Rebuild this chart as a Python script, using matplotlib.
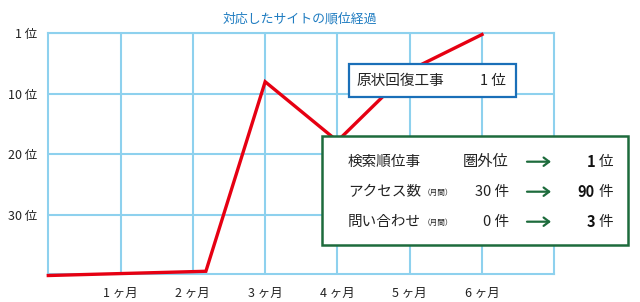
import matplotlib
matplotlib.use("Agg")
import matplotlib.pyplot as plt
from matplotlib.patches import Rectangle, FancyArrowPatch

plt.rcParams['font.family'] = ['Noto Sans CJK JP', 'DejaVu Sans']

# ---- data ----
title = "対応したサイトの順位経過"
months = [0, 2.18, 3, 4, 5, 6]          # month position of each point
rank_pos = [40.0, 39.3, 8.0, 17.8, 6.1, 0.2]  # vertical rank position (top = 1位)
xtick_vals = [1, 2, 3, 4, 5, 6]
xtick_labels = ["1 ヶ月", "2 ヶ月", "3 ヶ月", "4 ヶ月", "5 ヶ月", "6 ヶ月"]
ytick_vals = [0, 10, 20, 30]
ytick_labels = ["1 位", "10 位", "20 位", "30 位"]

box1_label = "原状回復工事"
box1_value = "1 位"

row_labels = ["検索順位事", "アクセス数", "問い合わせ"]
row_notes = ["", "（月間）", "（月間）"]
row_before = ["圏外位", "30 件", "0 件"]
row_after_num = ["1", "90", "3"]
row_after_unit = ["位", "件", "件"]

GRID = "#8ed1ee"
RED = "#e60012"
BLUE_T = "#1f7cc1"
BOX1 = "#1a6fb8"
GREEN = "#1d6b3c"

W, H = 640, 302
fig = plt.figure(figsize=(W / 100, H / 100), dpi=100)

def fx(px):
    return px / W

def fy(py):
    return 1 - py / H

L, R, T, B = 48.3, 554.3, 33.3, 274.0
ax = fig.add_axes([fx(L), fy(B), fx(R) - fx(L), fy(T) - fy(B)])
ax.set_xlim(0, 7)
ax.set_ylim(39.75, 0)

for s in ax.spines.values():
    s.set_color(GRID)
    s.set_linewidth(1.5)

ax.set_xticks(xtick_vals)
ax.set_xticklabels(xtick_labels, fontsize=9, color="#222222")
ax.set_yticks(ytick_vals)
ax.set_yticklabels(ytick_labels, fontsize=9, color="#222222")
ax.tick_params(axis="x", length=0, pad=9)
ax.tick_params(axis="y", length=0, pad=8)
ax.grid(True, color=GRID, linewidth=1.5)
ax.set_axisbelow(True)

ax.plot(months, rank_pos, color=RED, linewidth=2.4, clip_on=False,
        solid_joinstyle="miter", zorder=3)

fig.text(fx(300), fy(19), title, color=BLUE_T, fontsize=9.3,
         ha="center", va="center")

# ---- box 1 ----
fig.patches.append(Rectangle((fx(349), fy(96.7)), fx(515.7) - fx(349), fy(64) - fy(96.7),
                             transform=fig.transFigure, facecolor="white",
                             edgecolor=BOX1, linewidth=1.6, zorder=5))
fig.text(fx(356.5), fy(81), box1_label, fontsize=10.5, color="#222222",
         ha="left", va="center", zorder=6)
fig.text(fx(505.5), fy(81), box1_value, fontsize=10.5, color="#222222",
         ha="right", va="center", zorder=6)

# ---- box 2 ----
fig.patches.append(Rectangle((fx(322.3), fy(245)), fx(628.3) - fx(322.3), fy(135.7) - fy(245),
                             transform=fig.transFigure, facecolor="white",
                             edgecolor=GREEN, linewidth=1.8, zorder=5))
row_y = [161.7, 191.7, 221.7]
for i in range(3):
    y = fy(row_y[i])
    fig.text(fx(347.7), y, row_labels[i], fontsize=10.5, color="#222222",
             ha="left", va="center", zorder=6)
    if row_notes[i]:
        fig.text(fx(423), y - 0.003, row_notes[i], fontsize=5.5, color="#222222",
                 ha="left", va="center", zorder=6)
    fig.text(fx(509), y, row_before[i], fontsize=11 if i == 0 else 10.5,
             color="#222222", ha="right", va="center", zorder=6)
    arr = FancyArrowPatch((fx(527), y), (fx(551), y), transform=fig.transFigure,
                          arrowstyle="->,head_length=4,head_width=3",
                          color=GREEN, linewidth=1.6, zorder=6,
                          shrinkA=0, shrinkB=0)
    fig.patches.append(arr)
    fig.text(fx(595), y, row_after_num[i], fontsize=10.5, color="#111111",
             ha="right", va="center", fontweight="bold", zorder=6)
    fig.text(fx(613.5), y, row_after_unit[i], fontsize=10.5, color="#222222",
             ha="right", va="center", zorder=6)

fig.savefig("out.png", dpi=100)
